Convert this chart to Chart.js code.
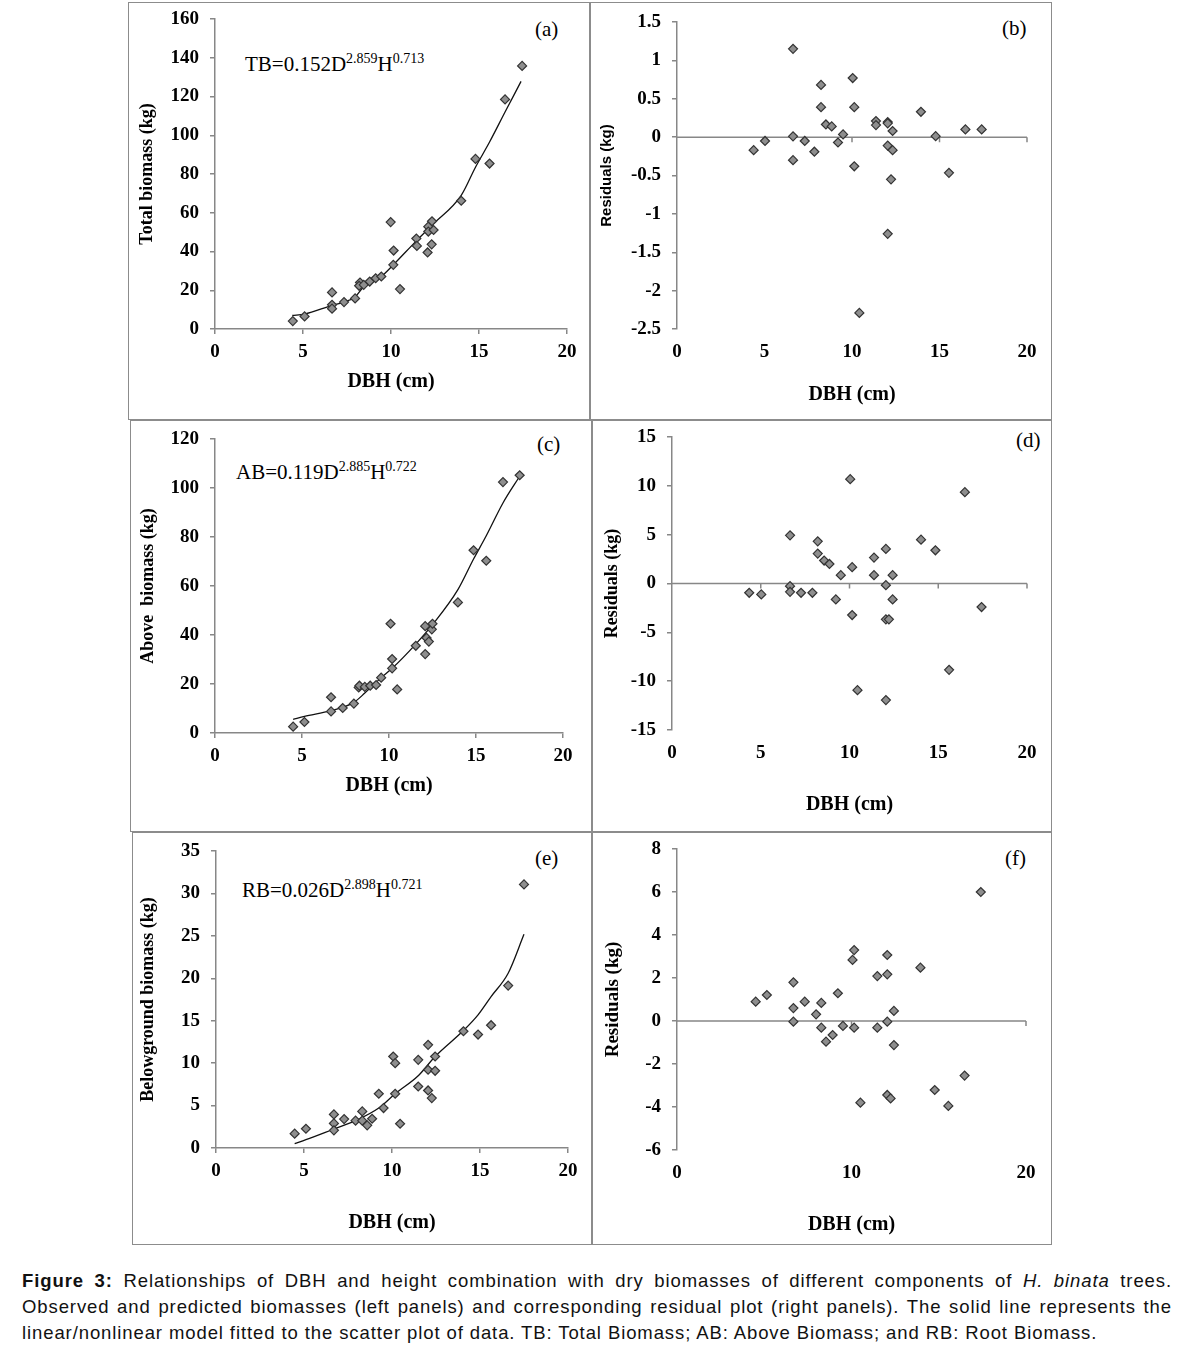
<!DOCTYPE html>
<html>
<head>
<meta charset="utf-8">
<script src="https://cdn.jsdelivr.net/npm/chart.js@4.4.1/dist/chart.umd.min.js"></script>
<style>
  body { margin: 0; background: #fff; width: 1182px; height: 1352px; position: relative; overflow: hidden; }
  .chart { position: absolute; }
  .chart canvas { display: block; }
  .frame { position: absolute; box-sizing: border-box; border: 1.5px solid #8c8c8c; pointer-events: none; }
  .eq { position: absolute; font-family: 'Liberation Serif', 'Times New Roman', serif; font-size: 21px; line-height: 24px; white-space: nowrap; color: #000; }
  .eq sup { font-size: 14px; vertical-align: 8px; line-height: 0; }
  .tag { position: absolute; font-family: 'Liberation Serif', 'Times New Roman', serif; font-size: 21px; line-height: 24px; color: #000; }
  .caption { position: absolute; left: 22px; width: 1150px; font-family: 'Liberation Sans', Arial, sans-serif; font-size: 18.5px; letter-spacing: 0.9px; line-height: 26px; color: #111; white-space: nowrap; }
  .just { text-align: justify; text-align-last: justify; }
</style>
</head>
<body>

<div class="eq" style="left:245px; top:52px">TB=0.152D<sup>2.859</sup>H<sup>0.713</sup></div>
<div class="eq" style="left:236px; top:460px">AB=0.119D<sup>2.885</sup>H<sup>0.722</sup></div>
<div class="eq" style="left:242px; top:878px">RB=0.026D<sup>2.898</sup>H<sup>0.721</sup></div>

<div class="tag" style="left:535px; top:17px">(a)</div>
<div class="tag" style="left:1002px; top:16px">(b)</div>
<div class="tag" style="left:537px; top:432px">(c)</div>
<div class="tag" style="left:1016px; top:428px">(d)</div>
<div class="tag" style="left:535px; top:846px">(e)</div>
<div class="tag" style="left:1005px; top:846px">(f)</div>

<div class="caption just" style="top:1268px"><b>Figure 3:</b> Relationships of DBH and height combination with dry biomasses of different components of <i>H. binata</i> trees.</div>
<div class="caption just" style="top:1294px">Observed and predicted biomasses (left panels) and corresponding residual plot (right panels). The solid line represents the</div>
<div class="caption" style="top:1320px">linear/nonlinear model fitted to the scatter plot of data. TB: Total Biomass; AB: Above Biomass; and RB: Root Biomass.</div>

<script>
// (a) total biomass: observed and fitted
const tbDbh = [4.42, 5.09, 6.65, 6.65, 6.65, 7.33, 7.96, 8.24, 8.19, 8.45, 8.79, 9.13, 9.45, 9.98, 10.15, 10.13, 10.51, 11.44, 11.47, 12.08, 12.12, 12.33, 12.12, 12.42, 12.31, 13.99, 14.8, 15.6, 16.48, 17.45];
const tbObs = [4.1, 6.5, 18.9, 12.5, 10.5, 13.9, 15.8, 24.0, 22.3, 22.8, 24.5, 26.2, 27.1, 55.2, 40.5, 33.1, 20.6, 46.7, 42.9, 39.5, 52.8, 55.6, 50.3, 51.1, 43.7, 66.2, 87.8, 85.4, 118.5, 135.8];
const tbFitDbh = [4.39, 5.09, 6.65, 7.33, 7.96, 8.41, 9.45, 10.13, 11.44, 12.38, 13.99, 14.8, 15.6, 16.48, 17.39];
const tbFit = [7.0, 7.7, 12.2, 13.9, 16.5, 21.4, 27.1, 33.1, 45.5, 54.0, 69.0, 83.5, 96.5, 112.0, 127.8];

// (b) total biomass residuals
const tbResDbh = [4.38, 5.03, 6.63, 6.63, 6.63, 7.30, 7.85, 8.23, 8.23, 8.51, 8.84, 9.2, 9.49, 10.04, 10.13, 10.13, 10.42, 11.37, 11.37, 12.04, 12.04, 12.04, 12.04, 12.32, 12.32, 12.23, 13.94, 14.78, 15.54, 16.48, 17.41];
const tbRes = [-0.17, -0.05, 1.15, 0.01, -0.30, -0.05, -0.19, 0.68, 0.39, 0.165, 0.14, -0.07, 0.035, 0.77, 0.39, -0.38, -2.29, 0.21, 0.157, 0.196, 0.18, -0.11, -1.26, 0.08, -0.17, -0.55, 0.33, 0.013, -0.465, 0.1, 0.1];

// (c) above-ground biomass: observed and fitted
const abDbh = [4.49, 5.14, 6.67, 6.67, 7.34, 7.98, 8.26, 8.3, 8.61, 8.92, 9.26, 9.55, 10.09, 10.18, 10.18, 10.47, 11.54, 12.08, 12.16, 12.29, 12.08, 12.46, 12.5, 13.96, 14.86, 15.59, 16.55, 17.51];
const abObs = [2.6, 4.5, 14.6, 8.8, 10.2, 12.0, 18.6, 19.3, 18.8, 19.3, 19.6, 22.6, 44.6, 30.2, 26.4, 17.8, 35.6, 43.6, 38.8, 37.3, 32.2, 42.3, 44.6, 53.3, 74.6, 70.3, 102.4, 105.2];
const abFitDbh = [4.49, 5.14, 6.67, 7.98, 8.61, 9.55, 10.18, 11.54, 12.5, 13.96, 14.86, 15.59, 16.55, 17.51];
const abFit = [5.6, 6.8, 9.1, 12.5, 16.3, 22.6, 26.4, 36.3, 44.2, 58.5, 71.0, 80.5, 93.9, 104.8];

// (d) above-ground biomass residuals
const abResDbh = [4.35, 5.03, 6.65, 6.65, 6.65, 7.27, 7.91, 8.21, 8.21, 8.57, 8.87, 9.23, 9.51, 10.04, 10.15, 10.15, 10.45, 11.38, 11.38, 12.05, 12.05, 12.05, 12.22, 12.05, 12.43, 12.43, 14.03, 14.84, 15.61, 16.5, 17.44];
const abRes = [-0.95, -1.12, 4.93, -0.27, -0.85, -0.95, -0.95, 4.32, 3.06, 2.35, 2.0, -1.63, 0.85, 10.68, 1.67, -3.23, -10.92, 2.65, 0.85, 3.54, -0.17, -3.67, -3.67, -11.94, 0.85, -1.63, 4.49, 3.4, -8.84, 9.35, -2.41];

// (e) below-ground biomass: observed and fitted
const rbDbh = [4.47, 5.11, 6.7, 6.7, 6.7, 7.28, 7.93, 8.31, 8.31, 8.59, 8.87, 9.25, 9.52, 10.07, 10.18, 10.18, 10.46, 11.49, 11.49, 12.05, 12.05, 12.05, 12.45, 12.45, 12.26, 14.06, 14.89, 15.63, 16.6, 17.5];
const rbObs = [1.69, 2.27, 3.96, 2.9, 2.08, 3.41, 3.22, 4.31, 3.22, 2.67, 3.45, 6.39, 4.71, 10.78, 10.0, 6.39, 2.86, 10.39, 7.25, 12.16, 9.22, 6.78, 10.78, 9.1, 5.88, 13.76, 13.37, 14.47, 19.14, 31.06];
const rbFitDbh = [4.47, 5.11, 6.7, 7.93, 9.25, 10.18, 11.49, 12.45, 14.06, 14.89, 15.63, 16.6, 17.5];
const rbFit = [0.51, 0.98, 2.24, 3.22, 4.71, 6.39, 8.51, 10.78, 13.84, 15.69, 17.84, 20.59, 25.18];

// (f) below-ground biomass residuals
const rbResDbh = [4.51, 5.15, 6.67, 6.67, 6.67, 7.32, 7.97, 8.27, 8.27, 8.54, 8.92, 9.22, 9.51, 10.06, 10.15, 10.15, 10.51, 11.48, 11.48, 12.05, 12.05, 12.05, 12.05, 12.24, 12.43, 12.43, 13.95, 14.77, 15.55, 16.48, 17.41];
const rbRes = [0.9, 1.21, 1.8, 0.6, -0.03, 0.9, 0.31, 0.84, -0.31, -0.96, -0.65, 1.29, -0.23, 2.84, 3.3, -0.31, -3.8, 2.09, -0.31, 3.07, 2.17, -0.03, -3.44, -3.6, 0.47, -1.12, 2.48, -3.21, -3.95, -2.54, 6.0];

const GRAY = '#878787';
const SERIF = "'Liberation Serif', 'Times New Roman', serif";
const SANS = "'Liberation Sans', Arial, sans-serif";

function pairs(xs, ys) {
  return xs.map((x, i) => ({ x: x, y: ys[i] }));
}

// horizontal line at zero with downward tick marks, used on the residual plots
const zeroLine = {
  id: 'zeroLine',
  beforeDatasetsDraw(chart) {
    const { ctx, scales: { x, y } } = chart;
    const py = y.getPixelForValue(0);
    ctx.save();
    ctx.strokeStyle = GRAY;
    ctx.lineWidth = 1.5;
    ctx.beginPath();
    ctx.moveTo(x.getPixelForValue(x.min), py);
    ctx.lineTo(x.getPixelForValue(x.max), py);
    x.ticks.forEach(t => {
      if (t.value === x.min) return;
      const px = x.getPixelForValue(t.value);
      ctx.moveTo(px, py);
      ctx.lineTo(px, py + 5);
    });
    ctx.stroke();
    ctx.restore();
  }
};

function panel(c) {
  const [bx, by, bw, bh] = c.box;
  const [L, T, R, B] = c.inset;

  const wrap = document.createElement('div');
  wrap.className = 'chart';
  wrap.style.left = bx + 'px';
  wrap.style.top = by + 'px';
  const cv = document.createElement('canvas');
  cv.width = bw;
  cv.height = bh;
  wrap.appendChild(cv);
  document.body.appendChild(wrap);

  const frame = document.createElement('div');
  frame.className = 'frame';
  Object.assign(frame.style, { left: bx + 'px', top: by + 'px', width: bw + 'px', height: bh + 'px' });
  document.body.appendChild(frame);

  const datasets = [{
    data: c.points,
    pointStyle: 'rectRot',
    pointRadius: 4.5,
    backgroundColor: '#8e8e8e',
    borderColor: '#333',
    borderWidth: 1.2,
    order: 1
  }];
  if (c.fit) {
    datasets.push({
      data: c.fit,
      showLine: true,
      pointRadius: 0,
      borderColor: '#111',
      borderWidth: 1.3,
      cubicInterpolationMode: 'monotone',
      order: 2
    });
  }

  const tickFont = { family: SERIF, size: 19, weight: 'bold' };

  new Chart(cv, {
    type: 'scatter',
    data: { datasets: datasets },
    options: {
      responsive: false,
      animation: false,
      layout: { padding: { left: 0, top: T, right: R, bottom: 0 } },
      plugins: { legend: { display: false }, tooltip: { enabled: false } },
      scales: {
        x: {
          type: 'linear',
          min: 0,
          max: 20,
          // fixed axis band, no automatic edge padding
          afterFit: s => { s.height = B; s.paddingLeft = 0; s.paddingRight = 0; },
          ticks: { stepSize: c.xStep, padding: 7, color: '#000', font: tickFont, maxRotation: 0 },
          border: { display: !c.resid, color: GRAY, width: 1.5 },
          grid: { display: !c.resid, drawOnChartArea: false, drawTicks: true, tickLength: 5, color: GRAY, lineWidth: 1.5 },
          title: {
            display: true, text: 'DBH (cm)', color: '#000',
            font: { family: SERIF, size: 20, weight: 'bold' },
            padding: { top: 0, bottom: c.xTitlePad }
          }
        },
        y: {
          min: c.yMin,
          max: c.yMax,
          afterFit: s => { s.width = L; s.paddingTop = 0; s.paddingBottom = 0; },
          ticks: { stepSize: c.yStep, padding: 11, color: '#000', font: tickFont, callback: v => String(v) },
          border: { display: true, color: GRAY, width: 1.5 },
          grid: { drawOnChartArea: false, drawTicks: true, tickLength: 5, color: GRAY, lineWidth: 1.5 },
          title: {
            display: true, text: c.yTitle, color: '#000',
            font: c.yTitleFont,
            padding: { top: c.yTitlePad, bottom: 0 }
          }
        }
      }
    },
    plugins: c.resid ? [zeroLine] : []
  });
}

// (a)
panel({
  box: [128, 2, 462, 418], inset: [87, 17, 23, 91],
  points: pairs(tbDbh, tbObs), fit: pairs(tbFitDbh, tbFit),
  xStep: 5, yMin: 0, yMax: 160, yStep: 20,
  yTitle: 'Total biomass (kg)', yTitleFont: { family: SERIF, size: 18, weight: 'bold' },
  yTitlePad: 9, xTitlePad: 26
});
// (b)
panel({
  box: [590, 2, 462, 418], inset: [87, 20, 25, 91], resid: true,
  points: pairs(tbResDbh, tbRes),
  xStep: 5, yMin: -2.5, yMax: 1.5, yStep: 0.5,
  yTitle: 'Residuals (kg)', yTitleFont: { family: SANS, size: 15, weight: 'bold' },
  yTitlePad: 8, xTitlePad: 13
});
// (c)
panel({
  box: [130, 420, 462, 412], inset: [85, 19, 29, 99],
  points: pairs(abDbh, abObs), fit: pairs(abFitDbh, abFit),
  xStep: 5, yMin: 0, yMax: 120, yStep: 20,
  yTitle: 'Above  biomass (kg)', yTitleFont: { family: SERIF, size: 18, weight: 'bold' },
  yTitlePad: 8, xTitlePad: 34
});
// (d)
panel({
  box: [592, 420, 460, 412], inset: [80, 17, 25, 102], resid: true,
  points: pairs(abResDbh, abRes),
  xStep: 5, yMin: -15, yMax: 15, yStep: 5,
  yTitle: 'Residuals (kg)', yTitleFont: { family: SERIF, size: 18, weight: 'bold' },
  yTitlePad: 10, xTitlePad: 15
});
// (e)
panel({
  box: [132, 832, 460, 413], inset: [84, 19, 24, 97],
  points: pairs(rbDbh, rbObs), fit: pairs(rbFitDbh, rbFit),
  xStep: 5, yMin: 0, yMax: 35, yStep: 5,
  yTitle: 'Belowground biomass (kg)', yTitleFont: { family: SERIF, size: 18, weight: 'bold' },
  yTitlePad: 6, xTitlePad: 10
});
// (f)
panel({
  box: [592, 832, 460, 413], inset: [85, 17, 26, 95], resid: true,
  points: pairs(rbResDbh, rbRes),
  xStep: 10, yMin: -6, yMax: 8, yStep: 2,
  yTitle: 'Residuals (kg)', yTitleFont: { family: SERIF, size: 19, weight: 'bold' },
  yTitlePad: 10, xTitlePad: 8
});
</script>
</body>
</html>
